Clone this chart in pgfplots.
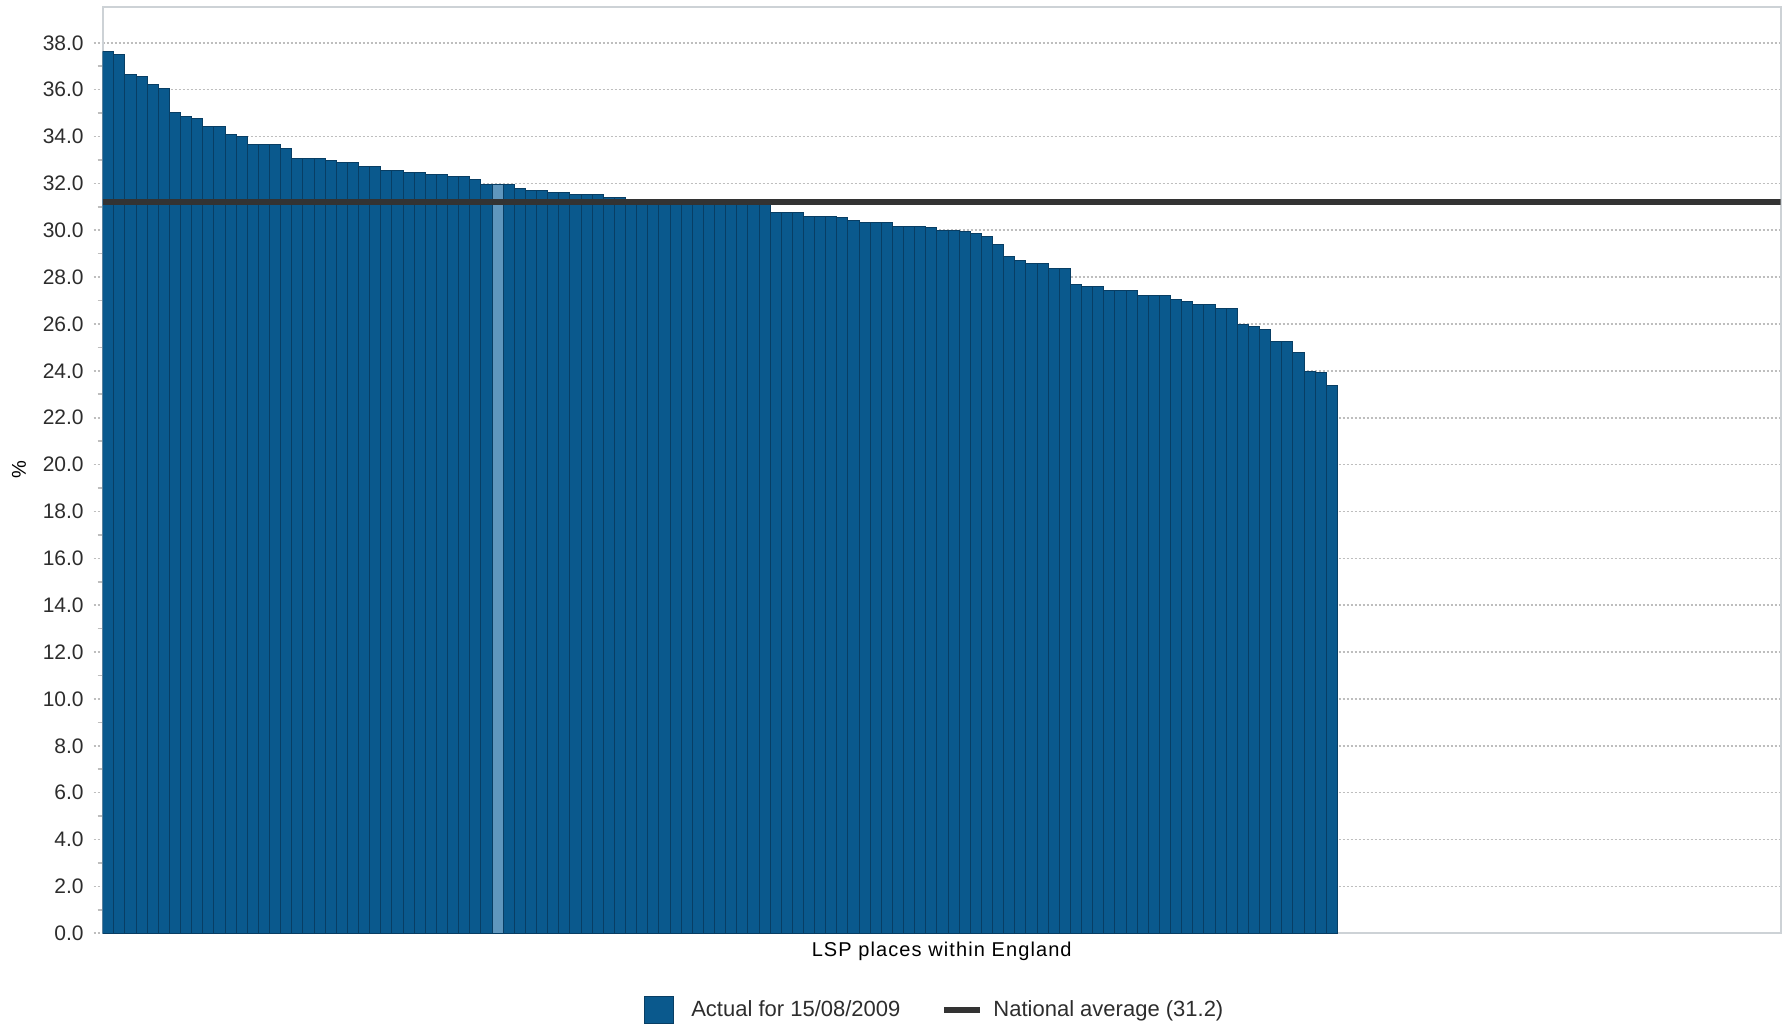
\documentclass[border=0pt]{standalone}
\usepackage{fontspec}
\setmainfont{Liberation Sans}
\newfontfamily\xlabfont[LetterSpace=5.5]{Liberation Sans}
\usepackage{pgfplots}
\pgfplotsset{compat=1.18}
\usepackage{pgfplotstable}
\definecolor{barblue}{RGB}{10,89,141}
\definecolor{bardark}{RGB}{8,62,100}
\definecolor{barlight}{RGB}{95,150,189}
\definecolor{avgline}{RGB}{51,51,51}
\definecolor{framegray}{RGB}{205,210,214}
\definecolor{gridgray}{RGB}{190,190,190}
\definecolor{tickgray}{RGB}{45,45,45}
\pgfplotstableread{
x y
1 37.62
2 37.5
3 36.65
4 36.55
5 36.23
6 36.06
7 35.04
8 34.85
9 34.78
10 34.43
11 34.43
12 34.1
13 34.0
14 33.65
15 33.65
16 33.65
17 33.5
18 33.08
19 33.08
20 33.08
21 32.98
22 32.9
23 32.9
24 32.72
25 32.72
26 32.55
27 32.55
28 32.48
29 32.48
30 32.4
31 32.4
32 32.3
33 32.3
34 32.16
35 31.97
36 31.97
37 31.97
38 31.8
39 31.7
40 31.7
41 31.62
42 31.62
43 31.52
44 31.52
45 31.52
46 31.38
47 31.38
48 31.32
49 31.28
50 31.26
51 31.25
52 31.24
53 31.22
54 31.2
55 31.2
56 31.18
57 31.16
58 31.15
59 31.12
60 31.1
61 30.77
62 30.77
63 30.77
64 30.6
65 30.6
66 30.6
67 30.53
68 30.43
69 30.34
70 30.34
71 30.34
72 30.17
73 30.17
74 30.17
75 30.1
76 30.0
77 30.0
78 29.93
79 29.85
80 29.74
81 29.39
82 28.9
83 28.73
84 28.58
85 28.58
86 28.38
87 28.38
88 27.7
89 27.6
90 27.6
91 27.44
92 27.44
93 27.44
94 27.2
95 27.2
96 27.2
97 27.03
98 26.94
99 26.84
100 26.84
101 26.67
102 26.67
103 25.99
104 25.89
105 25.75
106 25.27
107 25.27
108 24.77
109 23.99
110 23.92
111 23.36
}\bardata
\begin{document}
\begin{tikzpicture}
\begin{axis}[
  scale only axis,
  width=839pt, height=463.3pt,
  xmin=0.5, xmax=151.35,
  ymin=0, ymax=39.54,
  enlargelimits=false,
  xtick=\empty,
  ytick={0,2,...,38},
  ytick pos=left,
  minor y tick num=1,
  tick align=outside,
  major tick length=4.5pt,
  minor tick length=2.5pt,
  major tick style={draw=gridgray, line width=0.8pt, dash pattern=on 1pt off 1pt},
  minor tick style={draw=gridgray, line width=0.8pt},
  ymajorgrids,
  major grid style={draw=gridgray, line width=0.8pt, dash pattern=on 1pt off 1pt},
  axis line style={draw=framegray, line width=1pt},
  tick label style={font=\fontsize{10.5}{12}\selectfont, text=tickgray},
  yticklabel style={xshift=-1.5pt, /pgf/number format/.cd, fixed, fixed zerofill, precision=1, assume math mode=true},
  label style={font=\fontsize{11}{13}\selectfont, text=tickgray},
  ylabel={\%},
  xlabel={\xlabfont LSP places within England},
  every axis y label/.style={at={(axis description cs:-0.0499,0.5)}, rotate=90, anchor=center},
  every axis x label/.style={at={(axis description cs:0.5,-0.0191)}, anchor=center},
  legend style={at={(axis description cs:0.4965,-0.0828)}, anchor=center, draw=none, fill=none,
    font=\fontsize{11}{13}\selectfont, text=tickgray, legend columns=2,
    /tikz/every even column/.append style={column sep=18.5pt}},
  legend cell align=left,
]
\addplot[ybar, bar width=1, bar shift=0pt, fill=barblue, draw=bardark, line width=0.5pt,
  legend image code/.code={\draw[fill=barblue, draw=bardark, line width=0.5pt] (0pt,-6.75pt) rectangle (14.5pt,6.75pt);}]
  table[x=x, y=y] {\bardata};
\addlegendentry{\hspace{6.5pt}Actual for 15/08/2009}
\addplot[ybar, bar width=1, bar shift=0pt, fill=barlight, draw=bardark, line width=0.5pt, forget plot]
  coordinates {(36,31.97)};
\addplot[avgline, line width=3pt, mark=none,
  legend image code/.code={\draw[avgline, line width=3pt] (0pt,0pt) -- (18pt,0pt);}]
  coordinates {(0.5,31.2) (151.35,31.2)};
\addlegendentry{\hspace{3pt}National average (31.2)}
\end{axis}
\pgfresetboundingbox
\path[use as bounding box] (-51.35pt,-46.35pt) rectangle (842.65pt,466.65pt);
\end{tikzpicture}
\end{document}
